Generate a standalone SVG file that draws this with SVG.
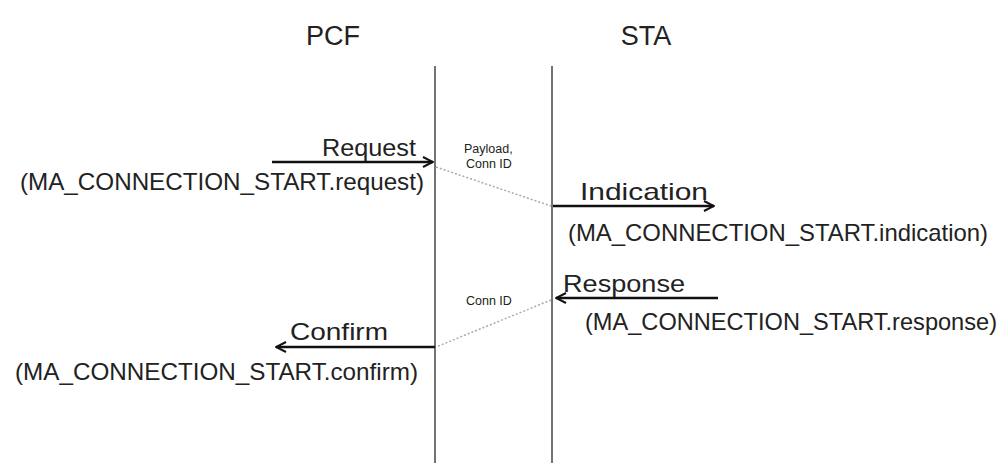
<svg xmlns="http://www.w3.org/2000/svg" width="1004" height="463" viewBox="0 0 1004 463">
<defs>
<marker id="ah" viewBox="0 0 12 12" refX="11" refY="6" markerWidth="12" markerHeight="12" markerUnits="userSpaceOnUse" orient="auto">
<path d="M1,1 L11,6 L1,11" fill="none" stroke="#111" stroke-width="2"/>
</marker>
<style>
.t{font-family:"Liberation Sans",Arial,sans-serif;fill:#222}
.big{font-size:24px}
.hd{font-size:27px}
.sm{font-size:12.5px}
.life{stroke:#444;stroke-width:1.5}
.msg{stroke:#111;stroke-width:2.5;marker-end:url(#ah)}
.dot{stroke:#aaa;stroke-width:1.5;stroke-dasharray:2 2}
</style>
</defs>
<rect width="1004" height="463" fill="#fff"/>
<g id="pcf">
<text class="t hd" x="333" y="45" text-anchor="middle">PCF</text>
<line class="life" x1="435" y1="66" x2="435" y2="463"/>
</g>
<g id="sta">
<text class="t hd" x="646" y="45" text-anchor="middle">STA</text>
<line class="life" x1="552" y1="66" x2="552" y2="463"/>
</g>
<g id="connectors">
<line class="msg" x1="272" y1="162" x2="433" y2="162"/>
<line class="dot" x1="436" y1="167" x2="551" y2="206"/>
<line class="msg" x1="553" y1="206" x2="714" y2="206"/>
<line class="msg" x1="718" y1="298" x2="556" y2="298"/>
<line class="dot" x1="551" y1="300" x2="436" y2="347"/>
<line class="msg" x1="435" y1="347" x2="276" y2="347"/>
</g>
<g id="labels">
<text class="t big" x="322" y="156" textLength="94" lengthAdjust="spacingAndGlyphs">Request</text>
<text class="t big" x="20" y="190" textLength="404" lengthAdjust="spacingAndGlyphs">(MA_CONNECTION_START.request)</text>
<text class="t sm" x="464" y="153">Payload,</text>
<text class="t sm" x="466" y="168">Conn ID</text>
<text class="t big" x="580" y="200" textLength="128" lengthAdjust="spacingAndGlyphs">Indication</text>
<text class="t big" x="568" y="241" textLength="420" lengthAdjust="spacingAndGlyphs">(MA_CONNECTION_START.indication)</text>
<text class="t big" x="563" y="292" textLength="122" lengthAdjust="spacingAndGlyphs">Response</text>
<text class="t big" x="585" y="330" textLength="412" lengthAdjust="spacingAndGlyphs">(MA_CONNECTION_START.response)</text>
<text class="t sm" x="466" y="305">Conn ID</text>
<text class="t big" x="290" y="340" textLength="98" lengthAdjust="spacingAndGlyphs">Confirm</text>
<text class="t big" x="15" y="380" textLength="403" lengthAdjust="spacingAndGlyphs">(MA_CONNECTION_START.confirm)</text>
</g>
</svg>
